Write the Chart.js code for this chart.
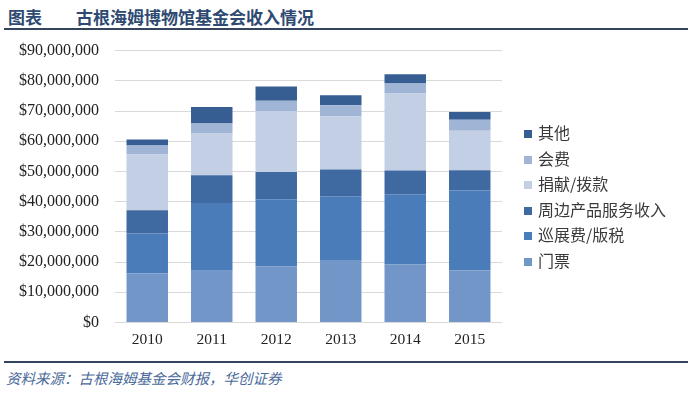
<!DOCTYPE html>
<html>
<head>
<meta charset="utf-8">
<script src="https://cdn.jsdelivr.net/npm/chart.js@4"></script>
<style>
  body { margin: 0; background: #fff; width: 700px; height: 398px; position: relative; overflow: hidden; }
  .title { position: absolute; left: 8px; top: 4px; font: bold 17px "Noto Sans CJK SC", sans-serif; color: #2e4a72; white-space: nowrap; }
  .title span { margin-left: 34px; }
  .line { position: absolute; left: 4px; width: 684px; height: 2px; background: #34445e; }
  .source { position: absolute; left: 6px; top: 367px; font: italic 14.5px "Noto Sans CJK SC", sans-serif; color: #4a6a9a; white-space: nowrap; }
  #wrap { position: absolute; left: 0; top: 25px; width: 700px; height: 324px; }
  #legend { position: absolute; left: 524px; top: 120px; font: 16px "Noto Sans CJK SC", sans-serif; color: #3a3a3a; }
  #legend div { height: 25.6px; line-height: 24px; white-space: nowrap; }
  #legend i { display: inline-block; width: 8px; height: 8px; margin-right: 6px; vertical-align: 1px; }
</style>
</head>
<body>
<div class="title">图表<span>古根海姆博物馆基金会收入情况</span></div>
<div class="line" style="top:28px"></div>
<div id="wrap"><canvas id="chart"></canvas></div>
<div id="legend"></div>
<div class="line" style="top:361px"></div>
<div class="source">资料来源：古根海姆基金会财报，华创证券</div>
<script>
// Categories and series (US$ millions)
const years = ['2010', '2011', '2012', '2013', '2014', '2015'];
const tickets = [16.3, 17.1, 18.6, 20.7, 19.2, 17.2];       // 门票
const touring = [13.1, 22.4, 22.2, 21.1, 23.2, 26.5];       // 巡展费/版税
const retail = [7.7, 9.2, 9.0, 8.8, 7.9, 6.7];              // 周边产品服务收入
const donations = [18.5, 14.0, 20.2, 17.7, 25.5, 13.1];     // 捐献/拨款
const membership = [3.0, 3.2, 3.4, 3.6, 3.3, 3.6];          // 会费
const other = [2.0, 5.4, 4.7, 3.3, 3.1, 2.6];               // 其他

const toDollars = arr => arr.map(v => v * 1000000);

const series = [
    { label: '门票', data: tickets, color: '#7396c8' },
    { label: '巡展费/版税', data: touring, color: '#4a7cba' },
    { label: '周边产品服务收入', data: retail, color: '#3f69a1' },
    { label: '捐献/拨款', data: donations, color: '#c2cfe4' },
    { label: '会费', data: membership, color: '#a0b4d6' },
    { label: '其他', data: other, color: '#365e93' }
];

// Legend, top to bottom in reverse stacking order
document.getElementById('legend').innerHTML = series.slice().reverse()
    .map(s => `<div><i style="background:${s.color}"></i>${s.label}</div>`).join('');

const serif = '"Liberation Serif", "Times New Roman", serif';

new Chart(document.getElementById('chart'), {
    type: 'bar',
    data: {
        labels: years,
        datasets: series.map(s => ({
            label: s.label,
            data: toDollars(s.data),
            backgroundColor: s.color,
            borderWidth: 0,
            barPercentage: 0.643,
            categoryPercentage: 1
        }))
    },
    options: {
        responsive: true,
        maintainAspectRatio: false,
        animation: false,
        layout: { padding: { top: 1, right: 198, left: 3, bottom: 0 } },
        plugins: {
            tooltip: { enabled: false },
            legend: { display: false }
        },
        scales: {
            x: {
                stacked: true,
                grid: { display: false },
                border: { display: false },
                ticks: { color: '#222', font: { family: serif, size: 15.5 }, padding: 0 }
            },
            y: {
                stacked: true,
                min: 0,
                max: 90000000,
                border: { display: false },
                grid: { color: '#d9d9d9', drawTicks: false },
                ticks: {
                    stepSize: 10000000,
                    padding: 16,
                    color: '#222',
                    font: { family: serif, size: 16 },
                    callback: v => '$' + v.toLocaleString('en-US')
                }
            }
        }
    }
});
</script>
</body>
</html>
